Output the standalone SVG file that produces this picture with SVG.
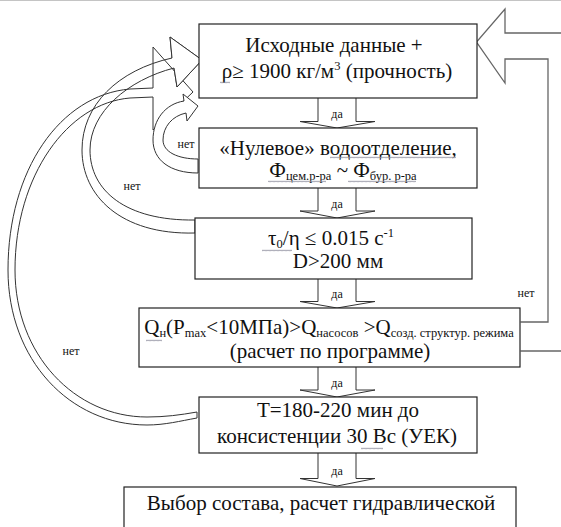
<svg xmlns="http://www.w3.org/2000/svg" width="561" height="527" viewBox="0 0 561 527" font-family="Liberation Serif, Times New Roman, serif">
  <style>
    .box { fill: #fff; stroke: #222; stroke-width: 1.2; }
    .t { font-family: "Liberation Serif", "Times New Roman", serif; font-size: 21px; fill: #111; text-anchor: middle; }
    .sub { font-size: 12.5px; }
    .sup { font-size: 12.5px; }
    .lbl { font-family: "Liberation Serif", "Times New Roman", serif; font-size: 12px; fill: #111; text-anchor: middle; }
    .down { fill: #fff; stroke: #333; stroke-width: 1; }
    .curve { fill: none; stroke: #333; stroke-width: 1; }
    .curvefill { fill: #fff; stroke: #333; stroke-width: 1; }
    .back { fill: none; stroke: #666; stroke-width: 1.3; }
    .wavy { fill: url(#squiggle); }
  </style>
  <defs>
    <!-- spell-check squiggle, tiled under marked words -->
    <pattern id="squiggle" width="4" height="3" patternUnits="userSpaceOnUse">
      <path d="M0,2.2 L1,0.8 L2,2.2 L3,0.8 L4,2.2" fill="none" stroke="#8c8c9c" stroke-width="0.7"/>
    </pattern>
  </defs>

  <rect width="561" height="527" fill="#fff"/>
  <line x1="0" y1="0.5" x2="561" y2="0.5" stroke="#c4c4c4" stroke-width="1"/>

  <!-- connectors -->
  <g id="connectors">
    <!-- down block arrows -->
    <path class="down" d="M318,98 V121.5 H300 L337,128 L375,121.5 H356 V98"/>
    <path class="down" d="M318,188 V211 H300 L337,218 L375,211 H356 V188"/>
    <path class="down" d="M318,279 V301.5 H300 L337,308 L375,301.5 H356 V279"/>
    <path class="down" d="M318,367 V390 H300 L337,397 L375,390 H356 V367"/>
    <path class="down" d="M318,453 V478.5 H300 L337,486 L375,478.5 H356 V453"/>
    <text class="lbl" x="337" y="118">да</text>
    <text class="lbl" x="337" y="208">да</text>
    <text class="lbl" x="337" y="298">да</text>
    <text class="lbl" x="337" y="387">да</text>
    <text class="lbl" x="337" y="475">да</text>

    <!-- large loop: from T box back to the input box -->
    <path class="curve" d="M197,418 C180,421 165,425 147,425 C70,425 8,360 8,270 C8,170 60,95 130,89 L153,88 L153,47 L193,92 L153,130 L153,97 L130,98 C68,103 15,175 15,270 C15,355 75,417 147,417 C165,417 180,415 197,412 Z"/>
    <text class="lbl" x="71" y="355">нет</text>

    <!-- middle loop: from tau/eta box back to the input box -->
    <path class="curve" d="M195,233 C120,235 82,195 82,150 C82,105 118,70 172,58 L170,37 L202,60 L177,87 L174,68 C128,80 90,112 90,150 C90,190 125,221 195,220 Z"/>
    <path class="curvefill" d="M172,58 L170,37 L202,60 L177,87 L174,68"/>
    <text class="lbl" x="132" y="190">нет</text>

    <!-- small loop: from water-separation box back to the input box -->
    <path class="curvefill" d="M198,173 C170,173 153,160 153,140 C153,120 165,104 184,101 L183,94 L198,106 L187,121 L186,113 C172,116 163,127 163,140 C163,152 178,159 198,159 Z"/>
    <text class="lbl" x="186" y="148">нет</text>

    <!-- right return arrow: from Q box to the input box -->
    <path class="back" d="M561,33 H505 V9 L476.5,42 L505,83 V59 H548 V322 H520.5"/>
    <path class="back" d="M520.5,351 H561"/>
    <text class="lbl" x="526" y="297">нет</text>
  </g>

  <g id="n1">
    <rect class="box" x="199" y="24" width="278" height="74"/>
    <text class="t" x="334" y="52">Исходные данные +</text>
    <text class="t" x="337" y="78">ρ≥ 1900 кг/м<tspan class="sup" dy="-8">3</tspan><tspan dy="8"> (прочность)</tspan></text>
    <rect class="wavy" x="220" y="81" width="10" height="3"/>
  </g>

  <g id="n2">
    <rect class="box" x="199" y="128" width="278" height="60"/>
    <text class="t" x="338" y="155">«Нулевое» водоотделение,</text>
    <text class="t" x="343" y="177">Ф<tspan class="sub" dy="3">цем.р-ра</tspan><tspan dy="-3"> ~ Ф</tspan><tspan class="sub" dy="3">бур. р-ра</tspan></text>
    <rect class="wavy" x="330" y="156" width="126" height="3"/>
    <rect class="wavy" x="268" y="180" width="58" height="3"/>
    <rect class="wavy" x="348" y="180" width="68" height="3"/>
  </g>

  <g id="n3">
    <rect class="box" x="195" y="218" width="277" height="61"/>
    <text class="t" x="331" y="245">τ<tspan class="sub" dy="3">0</tspan><tspan dy="-3">/η ≤ 0.015 с</tspan><tspan class="sup" dy="-8">-1</tspan></text>
    <text class="t" x="338" y="268">D&gt;200 мм</text>
    <rect class="wavy" x="262" y="249" width="30" height="3"/>
  </g>

  <g id="n4">
    <rect class="box" x="139" y="308" width="381" height="59"/>
    <text class="t" x="329" y="334">Q<tspan class="sub" dy="3">н</tspan><tspan dy="-3">(P</tspan><tspan class="sub" dy="3">max</tspan><tspan dy="-3">&lt;10МПа)&gt;Q</tspan><tspan class="sub" dy="3">насосов</tspan><tspan dy="-3"> &gt;Q</tspan><tspan class="sub" dy="3">созд. структур. режима</tspan></text>
    <text class="t" x="330" y="358">(расчет по программе)</text>
    <rect class="wavy" x="146" y="339" width="16" height="3"/>
  </g>

  <g id="n5">
    <rect class="box" x="199" y="397" width="278" height="56"/>
    <text class="t" x="338" y="417">Т=180-220 мин до</text>
    <text class="t" x="337" y="443">консистенции  30 Вс (УЕК)</text>
    <rect class="wavy" x="361" y="447" width="22" height="3"/>
  </g>

  <g id="n6">
    <rect class="box" x="124" y="487" width="392" height="60"/>
    <text class="t" x="321" y="510">Выбор состава, расчет гидравлической</text>
  </g>
</svg>
